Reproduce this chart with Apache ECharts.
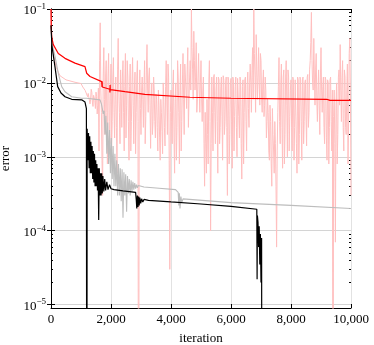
<!DOCTYPE html>
<html>
<head>
<meta charset="utf-8">
<style>
    html, body { margin: 0; padding: 0; overflow: hidden; background: #fff; }
</style>
</head>
<body>
<div id="plot" style="width:374px; height:345px;"></div>
<script src="https://cdn.jsdelivr.net/npm/echarts@6/dist/echarts.min.js"></script>
<script>
    // axis ticks
    var xTicks = [0, 2000, 4000, 6000, 8000, 10000];
    var yTicks = [1e-5, 1e-4, 1e-3, 1e-2, 1e-1];
    var yMinor = [2e-5, 3e-5, 4e-5, 5e-5, 6e-5, 7e-5, 8e-5, 9e-5,
        2e-4, 3e-4, 4e-4, 5e-4, 6e-4, 7e-4, 8e-4, 9e-4,
        2e-3, 3e-3, 4e-3, 5e-3, 6e-3, 7e-3, 8e-3, 9e-3,
        2e-2, 3e-2, 4e-2, 5e-2, 6e-2, 7e-2, 8e-2, 9e-2];

    // red curve [iteration, error]
    var redPts = [[0, 0.1], [8, 0.06], [23, 0.042], [77, 0.033], [243, 0.025], [467, 0.0215],
        [800, 0.0185], [1133, 0.0166], [1185, 0.016], [1190, 0.0135], [1243, 0.013], [1300, 0.0122],
        [1690, 0.0104], [1700, 0.0088], [1705, 0.0105], [1710, 0.0088], [1960, 0.0082],
        [1965, 0.0074], [1970, 0.0094], [1975, 0.0081], [2467, 0.0076], [3130, 0.0070],
        [3135, 0.0066], [3140, 0.0069], [4633, 0.0064], [6000, 0.0062], [9190, 0.0060],
        [9300, 0.0058], [10000, 0.0058]];

    // gray curve
    var grayHead = [[0, 0.06], [30, 0.034], [133, 0.023], [243, 0.0135], [357, 0.0089],
        [467, 0.0076], [690, 0.0065], [1023, 0.0062], [1190, 0.0062], [1633, 0.0059]];
    var grayNoiseStart = 1650, grayNoiseStep = 30;
    var grayNoise = [0.0058, 0.0052, 0.0045, 0.0038, 0.0042, 0.0020, 0.0036, 0.0011, 0.0029, 0.0008,
        0.0023, 0.0006, 0.0018, 0.0005, 0.0014, 0.0004, 0.0011, 0.0004, 0.0009, 0.0003,
        0.0008, 0.0003, 0.0007, 0.00025, 0.00068, 0.00015, 0.00062, 0.0003, 0.00058, 0.00018,
        0.00055, 0.00032, 0.0005, 0.0003, 0.00048, 0.00034, 0.00046, 0.00036, 0.00044, 0.00037,
        0.00042, 0.00038, 0.00041, 0.00039, 0.0004];
    var grayTail = [[3100, 3.9e-4], [3600, 3.75e-4], [4150, 3.6e-4], [4240, 3.3e-4], [4260, 2.2e-4],
        [4280, 3.2e-4], [4300, 2.0e-4], [4330, 2.9e-4], [4360, 2.4e-4], [4400, 2.7e-4],
        [4450, 2.6e-4], [6000, 2.4e-4], [8000, 2.2e-4], [10000, 2.0e-4]];

    // black curve
    var blackHead = [[0, 0.06], [30, 0.032], [133, 0.0165], [223, 0.0089], [333, 0.0073],
        [467, 0.0065], [690, 0.006], [1023, 0.0059], [1133, 0.0055], [1180, 0.0045],
        [1195, 1e-9], [1205, 0.0024]];
    var blackNoiseStart = 1210, blackNoiseStep = 20;
    var blackNoise = [0.0024, 0.0009, 0.0021, 0.0007, 0.0019, 0.0006, 0.0016, 0.0006, 0.0014, 0.0005,
        0.0012, 0.00045, 0.0011, 0.0004, 0.0009, 0.0004, 0.0008, 0.00035, 0.0007, 0.00014,
        0.0007, 0.0003, 0.0006];
    var blackTail = [[1670, 3e-4], [1690, 6e-4], [1710, 3.2e-4], [1730, 5.5e-4], [1760, 3.4e-4],
        [1790, 5.0e-4], [1820, 3.5e-4], [1860, 4.6e-4], [1900, 3.6e-4], [1950, 4.2e-4],
        [2000, 3.7e-4], [2100, 3.6e-4], [2400, 3.45e-4], [2820, 3.3e-4], [2840, 2.7e-4],
        [2860, 2.0e-4], [2880, 3.0e-4], [2900, 2.1e-4], [2920, 2.9e-4], [2940, 2.2e-4],
        [2960, 2.8e-4], [2990, 2.35e-4], [3020, 2.7e-4], [3060, 2.45e-4], [3100, 2.65e-4],
        [3150, 2.55e-4], [3250, 2.58e-4], [4000, 2.45e-4], [5000, 2.3e-4], [6000, 2.14e-4],
        [6860, 1.95e-4], [6870, 2.2e-5], [6880, 1.6e-4], [6900, 1.3e-4], [6920, 6e-5],
        [6940, 1.15e-4], [6960, 3.5e-5], [6980, 9e-5], [7000, 2e-5], [7020, 8e-5], [7035, 1e-9]];

    // light red (noisy) curve
    var pinkHead = [[0, 0.1], [20, 0.045], [80, 0.025], [180, 0.016], [300, 0.0125],
        [500, 0.011], [800, 0.0102], [1000, 0.0098]];
    var pinkNoiseStart = 1040, pinkNoiseStep = 40;
    var pinkNoise = [
        0.0095, 0.009, 0.0085, 0.008, 0.0078, 0.0072, 0.0068, 0.006, 0.0075, 0.0048,
        0.0072, 0.0045, 0.0065, 0.005, 0.0012, 0.065, 0.004, 0.0003, 0.03, 0.002,
        0.02, 0.0008, 0.025, 0.0015, 0.018, 0.003, 0.022, 0.0018, 0.012, 0.0006,
        0.04, 0.004, 0.015, 0.0025, 0.02, 0.0012, 0.025, 0.005, 0.012, 0.0009,
        0.018, 0.003, 0.022, 0.0015, 0.014, 0.004, 0.02, 1e-9, 0.015, 0.002,
        0.012, 0.0025, 0.02, 0.0035, 0.033, 0.004, 0.016, 0.0013, 0.01, 0.003,
        0.008, 0.0018, 0.006, 0.0012, 0.005, 0.0009, 0.004, 0.0011, 0.006, 0.0014,
        0.02, 0.002, 0.012, 0.00003, 0.008, 0.0015, 0.015, 0.0006, 0.01, 0.0025,
        0.012, 0.0008, 0.018, 0.003, 0.025, 0.002, 0.012, 0.0045, 0.03, 0.006,
        0.02, 0.1, 0.015, 0.05, 0.008, 0.035, 0.006, 0.025, 0.004, 0.02,
        0.003, 0.012, 0.0004, 0.0015, 0.006, 0.0008, 0.02, 0.0001, 0.012, 0.0012,
        0.013, 0.0015, 0.012, 0.0006, 0.011, 0.0025, 0.012, 0.0009, 0.011, 0.003,
        0.012, 0.0003, 0.011, 0.002, 0.0115, 0.0007, 0.011, 0.0035, 0.012, 0.001,
        0.011, 0.0018, 0.0105, 0.0005, 0.011, 0.004, 0.012, 0.0012, 0.014, 0.0025,
        0.018, 0.004, 0.03, 0.1, 0.012, 0.045, 0.006, 0.03, 0.005, 0.02,
        0.004, 0.015, 0.005, 0.008, 0.003, 0.004, 0.0009, 0.003, 0.0004, 0.002,
        0.0006, 0.0015, 0.00006, 0.004, 0.022, 0.0015, 0.018, 0.0007, 0.015, 0.002,
        0.02, 0.001, 0.012, 0.0035, 0.011, 0.0012, 0.011, 0.0025, 0.0105, 0.0006,
        0.011, 0.002, 0.011, 0.0009, 0.012, 0.003, 0.011, 0.0014, 0.013, 0.004,
        0.02, 0.09, 0.01, 0.04, 0.005, 0.025, 0.003, 0.015, 0.002, 0.03,
        0.004, 0.012, 0.0015, 0.011, 0.0009, 0.01, 0.0025, 0.012, 0.0012, 1e-9,
        0.008, 0.00007, 0.01, 0.002, 0.015, 0.033, 0.003, 0.02, 0.0012, 0.012,
        0.002, 0.018, 0.003, 0.04, 0.0003];
    // in-between samples of the noisy curve (at +20 iterations)
    var pinkMid = [
        0.0088, 0.0092, 0.0079, 0.0082, 0.0065, 0.0076, 0.0052, 0.0082, 0.0055, 0.0068,
        0.0058, 0.0075, 0.0038, 0.0085, 0.02, 0.008, 0.0009, 0.012, 0.006, 0.012,
        0.004, 0.012, 0.003, 0.009, 0.0012, 0.012, 0.004, 0.007, 0.0025, 0.015,
        0.008, 0.0015, 0.007, 0.012, 0.004, 0.009, 0.0018, 0.02, 0.003, 0.009,
        0.0012, 0.01, 0.005, 0.008, 0.0011, 0.012, 0.003, 0.006, 0.0045, 0.008,
        0.006, 0.009, 0.0015, 0.015, 0.008, 0.012, 0.005, 0.006, 0.002, 0.012,
        0.003, 0.007, 0.0025, 0.008, 0.0018, 0.006, 0.0022, 0.01, 0.0025, 0.009,
        0.006, 0.018, 0.0009, 0.004, 0.003, 0.009, 0.0018, 0.006, 0.0009, 0.02,
        0.004, 0.008, 0.0012, 0.01, 0.006, 0.018, 0.008, 0.015, 0.0025, 0.012,
        0.008, 0.03, 0.006, 0.02, 0.012, 0.004, 0.012, 0.008, 0.01, 0.006,
        0.008, 0.0015, 0.004, 0.0006, 0.002, 0.01, 0.003, 0.0015, 0.004, 0.012,
        0.004, 0.008, 0.003, 0.012, 0.0015, 0.009, 0.0035, 0.0125, 0.002, 0.01,
        0.0025, 0.012, 0.0008, 0.01, 0.003, 0.012, 0.0012, 0.009, 0.0025, 0.0115,
        0.0035, 0.012, 0.0015, 0.009, 0.0008, 0.011, 0.003, 0.0095, 0.0045, 0.01,
        0.01, 0.015, 0.006, 0.025, 0.004, 0.015, 0.012, 0.01, 0.025, 0.006,
        0.01, 0.0035, 0.012, 0.0018, 0.006, 0.0012, 0.005, 0.0008, 0.0045, 0.0012,
        0.003, 0.0004, 0.0012, 0.009, 0.003, 0.01, 0.0025, 0.012, 0.0008, 0.012,
        0.005, 0.015, 0.0012, 0.008, 0.0025, 0.012, 0.0009, 0.011, 0.0015, 0.012,
        0.0008, 0.012, 0.003, 0.011, 0.0015, 0.01, 0.0035, 0.012, 0.0025, 0.015,
        0.035, 0.02, 0.008, 0.012, 0.015, 0.006, 0.008, 0.005, 0.012, 0.008,
        0.009, 0.0025, 0.012, 0.0018, 0.011, 0.0008, 0.011, 0.003, 0.008, 0.0035,
        0.0015, 0.005, 0.0008, 0.012, 0.005, 0.008, 0.012, 0.0025, 0.015, 0.0025,
        0.008, 0.0008, 0.025, 0.008];

    var yMin = 9.0e-6, yMax = 0.1;

    function stepped(start, step, vals) {
        return vals.map(function (v, i) { return [start + i * step, v]; });
    }
    var pinkData = pinkHead.slice();
    pinkNoise.forEach(function (v, i) {
        pinkData.push([pinkNoiseStart + i * pinkNoiseStep, v]);
        if (i < pinkMid.length) {
            pinkData.push([pinkNoiseStart + i * pinkNoiseStep + pinkNoiseStep / 2, pinkMid[i]]);
        }
    });
    var grayData = grayHead.concat(stepped(grayNoiseStart, grayNoiseStep, grayNoise), grayTail);
    var blackData = blackHead.concat(stepped(blackNoiseStart, blackNoiseStep, blackNoise), blackTail);

    var serif = 'Liberation Serif';

    function yLabel(v) {
        var e = Math.round(Math.log10(v));
        return '{b|10}{s|\u2212' + Math.abs(e) + '}';
    }
    function xLabel(v) {
        return String(v).replace(/\B(?=(\d{3})+(?!\d))/g, ',');
    }

    var chart = echarts.init(document.getElementById('plot'), null, {renderer: 'canvas'});

    var yBase = {type: 'log', logBase: 10, min: yMin, max: yMax, gridIndex: 0};
    function tickAxis(pos, vals, len, withLine) {
        return Object.assign({}, yBase, {
            position: pos,
            axisLine: {show: withLine, lineStyle: {color: '#000', width: 1}},
            axisTick: {show: true, inside: true, length: len, customValues: vals, lineStyle: {color: '#000'}},
            axisLabel: {show: false},
            splitLine: {show: false},
            minorTick: {show: false}
        });
    }

    chart.setOption({
        animation: false,
        grid: {left: 51, right: 23, top: 9, bottom: 37, containLabel: false, outerBoundsMode: 'none'},
        xAxis: [{
            type: 'value', min: 0, max: 10000, interval: 2000, position: 'bottom',
            name: 'iteration', nameLocation: 'middle', nameGap: 24,
            nameTextStyle: {fontFamily: serif, fontSize: 13, color: '#000'},
            axisLine: {show: true, onZero: false, lineStyle: {color: '#000'}},
            axisTick: {show: true, inside: true, length: 4, lineStyle: {color: '#000'}},
            axisLabel: {formatter: xLabel, fontFamily: serif, fontSize: 13, color: '#000', margin: 5},
            splitLine: {show: true, lineStyle: {color: '#e2e2e2', width: 1}}
        }, {
            type: 'value', min: 0, max: 10000, interval: 2000, position: 'top',
            axisLine: {show: true, onZero: false, lineStyle: {color: '#000'}},
            axisTick: {show: true, inside: true, length: 4, lineStyle: {color: '#000'}},
            axisLabel: {show: false},
            splitLine: {show: false}
        }],
        yAxis: [Object.assign({}, yBase, {
            position: 'left',
            name: 'error', nameLocation: 'middle', nameGap: 36,
            nameTextStyle: {fontFamily: serif, fontSize: 13, color: '#000'},
            axisLine: {show: true, onZero: false, lineStyle: {color: '#000'}},
            axisTick: {show: true, inside: true, length: 4, customValues: yTicks, lineStyle: {color: '#000'}},
            axisLabel: {
                customValues: yTicks, formatter: yLabel, margin: 5,
                rich: {
                    b: {fontFamily: serif, fontSize: 13, color: '#000', lineHeight: 14, padding: [4, 0, 0, 0]},
                    s: {fontFamily: serif, fontSize: 9, color: '#000', lineHeight: 10, verticalAlign: 'top'}
                }
            },
            splitLine: {show: true, lineStyle: {color: '#d4d4d4', width: 1}},
            minorTick: {show: false}
        }),
            tickAxis('right', yTicks, 4, true),
            tickAxis('left', yMinor, 2, false),
            tickAxis('right', yMinor, 2, false)
        ],
        series: [
            {type: 'line', data: pinkData, showSymbol: false, symbol: 'none', clip: true,
                lineStyle: {color: '#ffbfbf', width: 1}},
            {type: 'line', data: grayData, showSymbol: false, symbol: 'none', clip: true,
                lineStyle: {color: '#bdbdbd', width: 1.1}},
            {type: 'line', data: redPts, showSymbol: false, symbol: 'none', clip: true,
                lineStyle: {color: '#ff0000', width: 1.2}},
            {type: 'line', data: blackData, showSymbol: false, symbol: 'none', clip: true,
                lineStyle: {color: '#000000', width: 1.2}}
        ]
    });
</script>
</body>
</html>
